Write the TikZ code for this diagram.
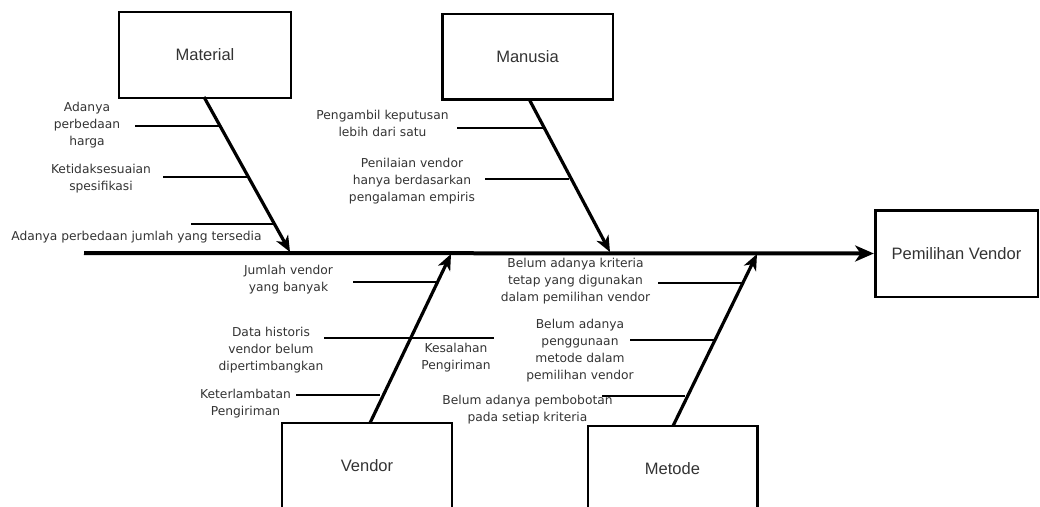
\documentclass[tikz,border=0pt]{standalone}
\usepackage{fontspec}
\setmainfont{DejaVu Sans}
\newfontfamily\boxfont{Liberation Sans}
\usetikzlibrary{arrows.meta}
\definecolor{txt}{HTML}{333333}
\tikzset{
  cat/.style={draw, line width=2pt, inner sep=0pt, text=txt,
    font=\boxfont\fontsize{12.4}{14}\selectfont},
  cause/.style={align=center, inner sep=0pt, text=txt,
    font=\fontsize{9.2}{12.75}\selectfont},
  spine/.style={line width=3pt, -{Stealth[length=14pt,width=12pt,inset=4pt]}},
  branch/.style={line width=2.4pt, -{Stealth[length=12pt,width=10pt,inset=3.5pt]}},
  rib/.style={line width=1.6pt}
}
\begin{document}
\begin{tikzpicture}[x=0.75pt,y=-0.75pt]
\useasboundingbox (0,0) rectangle (1040,507);
% category boxes
\node[cat, minimum width=129pt, minimum height=64.5pt] (mat) at (205,55) {Material};
\node[cat, minimum width=128pt, minimum height=64pt] (man) at (527.5,56.5) {Manusia};
\node[cat, minimum width=127.5pt, minimum height=64.5pt] (ven) at (367,466) {Vendor};
\node[cat, minimum width=127pt, minimum height=64.5pt] (met) at (672.5,469) {Metode};
\node[cat, minimum width=122pt, minimum height=65pt] (eff) at (956.5,253.5) {Pemilihan Vendor};
% spine
\coordinate (tail) at (84,253);
\draw[spine] (tail) -- (eff.west);
% branch end points on spine
\coordinate (matE) at (290,252);
\coordinate (manE) at (610,252);
\coordinate (venE) at (451,254);
\coordinate (metE) at (757,254);
\coordinate (matS) at (204,97);
\coordinate (manS) at (529,99);
\coordinate (venS) at (370,423);
\coordinate (metS) at (673,426);
\draw[branch] (matS) -- (matE);
\draw[branch] (manS) -- (manE);
\draw[branch] (venS) -- (venE);
\draw[branch] (metS) -- (metE);
% ribs: Material
\coordinate (a1) at (135,126); \coordinate (a2) at (220,126);
\coordinate (b1) at (163,177); \coordinate (b2) at (248,177);
\coordinate (c1) at (191,224); \coordinate (c2) at (275,224);
\draw[rib] (a1) -- (a2);
\draw[rib] (b1) -- (b2);
\draw[rib] (c1) -- (c2);
\node[cause] (ta) at (87,125.5) {Adanya\\perbedaan\\harga};
\node[cause] (tb) at (101,178.5) {Ketidaksesuaian\\spesifikasi};
\node[cause] (tc) at (136.5,237) {Adanya perbedaan jumlah yang tersedia};
% ribs: Manusia
\coordinate (d1) at (457,128); \coordinate (d2) at (543,128);
\coordinate (e1) at (485,179); \coordinate (e2) at (569,179);
\draw[rib] (d1) -- (d2);
\draw[rib] (e1) -- (e2);
\node[cause] (td) at (382.5,123.5) {Pengambil keputusan\\lebih dari satu};
\node[cause] (te) at (412,181) {Penilaian vendor\\hanya berdasarkan\\pengalaman empiris};
% ribs: Vendor
\coordinate (f1) at (353,282); \coordinate (f2) at (438,282);
\coordinate (g1) at (324,338); \coordinate (g2) at (494,338);
\coordinate (h1) at (296,395); \coordinate (h2) at (380,395);
\draw[rib] (f1) -- (f2);
\draw[rib] (g1) -- (g2);
\draw[rib] (h1) -- (h2);
\node[cause] (tf) at (288.5,279.5) {Jumlah vendor\\yang banyak};
\node[cause] (tg) at (271,350) {Data historis\\vendor belum\\dipertimbangkan};
\node[cause] (th) at (245.5,403.5) {Keterlambatan\\Pengiriman};
\node[cause] (tk) at (456,357.5) {Kesalahan\\Pengiriman};
% ribs: Metode
\coordinate (i1) at (658,283); \coordinate (i2) at (743,283);
\coordinate (j1) at (630,340); \coordinate (j2) at (714,340);
\coordinate (l1) at (602,396); \coordinate (l2) at (685,396);
\draw[rib] (i1) -- (i2);
\draw[rib] (j1) -- (j2);
\draw[rib] (l1) -- (l2);
\node[cause] (ti) at (575.5,281) {Belum adanya kriteria\\tetap yang digunakan\\dalam pemilihan vendor};
\node[cause] (tj) at (580,351) {Belum adanya\\penggunaan\\metode dalam\\pemilihan vendor};
\node[cause] (tl) at (527.5,410) {Belum adanya pembobotan\\pada setiap kriteria};
\end{tikzpicture}
\end{document}
